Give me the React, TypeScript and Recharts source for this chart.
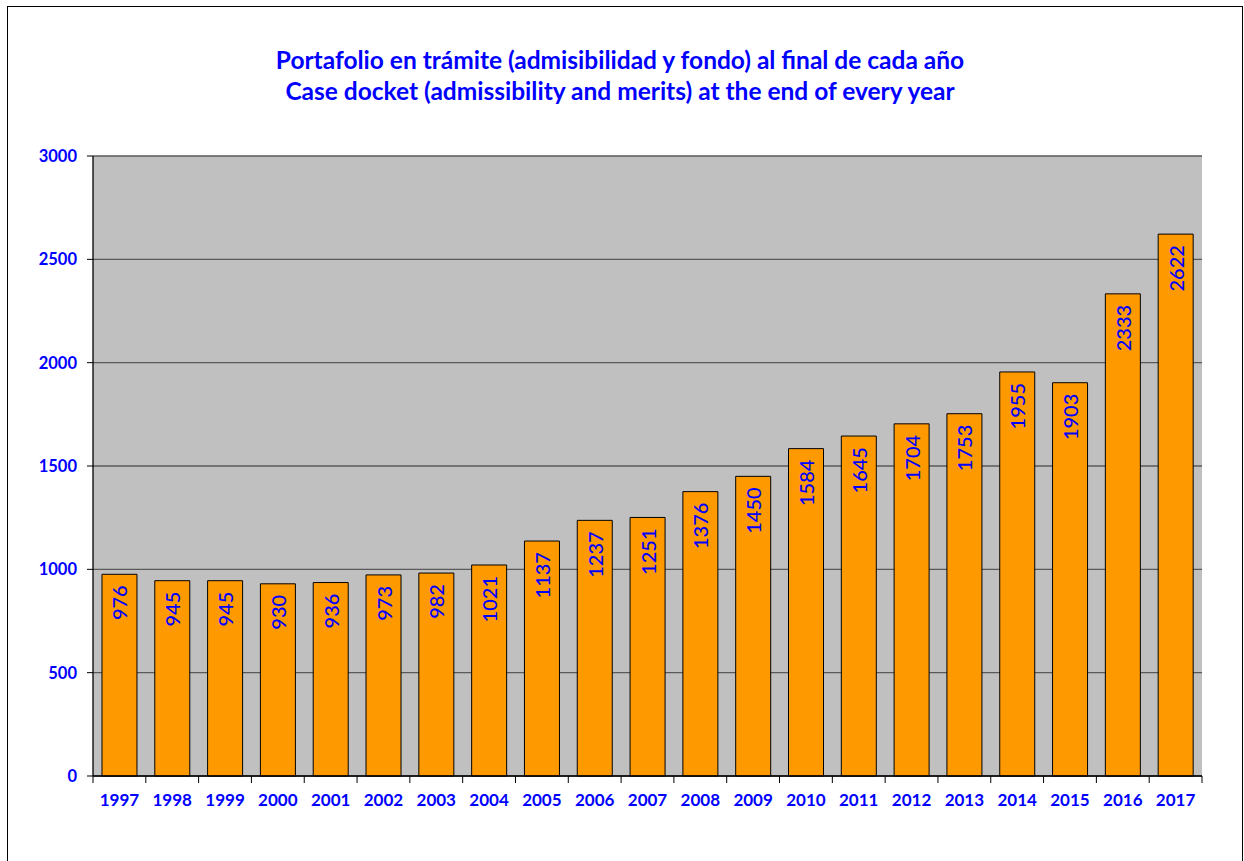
import React from "react";
import {
  BarChart,
  Bar,
  XAxis,
  YAxis,
  CartesianGrid,
  LabelList,
} from "recharts";

const years = [
  "1997", "1998", "1999", "2000", "2001", "2002", "2003", "2004", "2005", "2006", "2007",
  "2008", "2009", "2010", "2011", "2012", "2013", "2014", "2015", "2016", "2017",
];
const dockets = [
  976, 945, 945, 930, 936, 973, 982, 1021, 1137, 1237, 1251,
  1376, 1450, 1584, 1645, 1704, 1753, 1955, 1903, 2333, 2622,
];
const yTicks = [0, 500, 1000, 1500, 2000, 2500, 3000];
const titleLines = [
  "Portafolio en trámite (admisibilidad y fondo) al final de cada año",
  "Case docket (admissibility and merits) at the end of every year",
];

const data = years.map((y, i) => ({ year: y, value: dockets[i] }));

const W = 1244;
const H = 861;
const PLOT_LEFT = 93;
const PLOT_RIGHT = 1202;
const PLOT_TOP = 156;
const PLOT_BOTTOM = 776;
const BLUE = "#0000FF";
const FONT = "Lato, 'Open Sans', sans-serif";
const STEP = (PLOT_RIGHT - PLOT_LEFT) / years.length;

const XTick = (props: any) => {
  const { x, y, payload, index } = props;
  const last = index === years.length - 1;
  return (
    <g>
      <line x1={x - STEP / 2} x2={x - STEP / 2} y1={y - 8} y2={y - 1} stroke="#000" strokeWidth={1} />
      {last && (
        <line x1={x + STEP / 2} x2={x + STEP / 2} y1={y - 8} y2={y - 1} stroke="#000" strokeWidth={1} />
      )}
      <text
        x={x}
        y={y + 22}
        textAnchor="middle"
        fill={BLUE}
        fontFamily={FONT}
        fontWeight={700}
        fontSize={17}
      >
        {payload.value}
      </text>
    </g>
  );
};

const BarLabel = (props: any) => {
  const { x, y, width, value } = props;
  const cx = x + width / 2;
  const cy = y + 11;
  return (
    <text
      x={cx}
      y={cy}
      transform={`rotate(-90 ${cx} ${cy})`}
      textAnchor="end"
      dominantBaseline="central"
      fill={BLUE}
      fontFamily={FONT}
      fontWeight={500}
      fontSize={20}
    >
      {value}
    </text>
  );
};

export default function App() {
  return (
    <div
      style={{
        position: "absolute",
        left: 0,
        top: 0,
        width: W,
        height: H,
        overflow: "hidden",
        background: "#fff",
      }}
    >
      <div
        style={{
          position: "absolute",
          left: 7,
          top: 6,
          width: 1234,
          height: 900,
          border: "1.5px solid #000",
        }}
      />
      <div
        style={{
          position: "absolute",
          left: 0,
          top: 44,
          width: 1240,
          textAlign: "center",
          color: BLUE,
          fontFamily: FONT,
          fontWeight: 700,
          fontSize: 24.5,
          lineHeight: "31px",
        }}
      >
        {titleLines.map((t) => (
          <div key={t}>{t}</div>
        ))}
      </div>
      <div style={{ position: "absolute", left: 0, top: 0 }}>
        <BarChart
          width={W}
          height={H}
          data={data}
          margin={{ top: PLOT_TOP, right: W - PLOT_RIGHT, bottom: H - PLOT_BOTTOM - 40, left: PLOT_LEFT - 60 }}
          barCategoryGap="17%"
        >
          <CartesianGrid
            vertical={false}
            fill="#C0C0C0"
            fillOpacity={1}
            stroke="#5a5a5a"
            strokeWidth={1.3}
          />
          <XAxis
            dataKey="year"
            height={40}
            axisLine={{ stroke: "#000", strokeWidth: 1.3 }}
            tickLine={false}
            tick={<XTick />}
            interval={0}
          />
          <YAxis
            width={60}
            domain={[0, 3000]}
            ticks={yTicks}
            interval={0}
            axisLine={{ stroke: "#000", strokeWidth: 1.3 }}
            tickLine={{ stroke: "#000" }}
            tickSize={6}
            tickMargin={10}
            tick={{ fill: BLUE, fontFamily: FONT, fontWeight: 700, fontSize: 16.5 }}
          />
          <YAxis
            yAxisId="r"
            orientation="right"
            width={0}
            domain={[0, 3000]}
            tick={false}
            tickLine={false}
            axisLine={{ stroke: "#8a8a8a", strokeWidth: 2 }}
          />
          <Bar
            dataKey="value"
            fill="#FF9900"
            stroke="#000"
            strokeWidth={1}
            isAnimationActive={false}
          >
            <LabelList dataKey="value" content={<BarLabel />} />
          </Bar>
        </BarChart>
      </div>
    </div>
  );
}
